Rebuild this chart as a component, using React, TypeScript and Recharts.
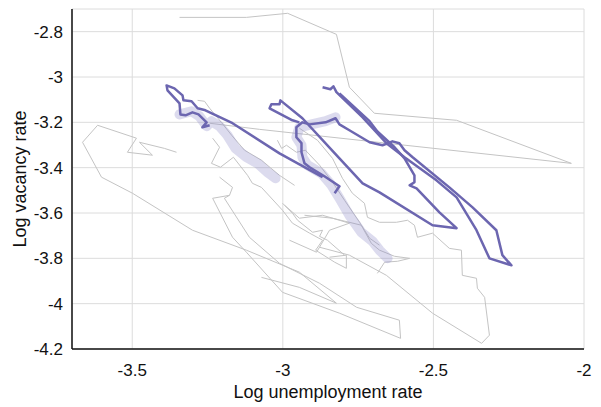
import React from "react";
import { LineChart, Line, XAxis, YAxis, CartesianGrid } from "recharts";

const xTicks = [-3.5, -3, -2.5, -2];
const yTicks = [-4.2, -4, -3.8, -3.6, -3.4, -3.2, -3, -2.8];

// grey background paths (log u, log v)
const greyAx = [-3.343, -3.121, -2.984, -2.822, -2.779, -2.696, -2.423, -2.042, -3.077, -3.243];
const greyAy = [-2.737, -2.737, -2.719, -2.812, -3.045, -3.16, -3.191, -3.381, -3.231, -3.204];

const greyBx = [-3.353, -3.393, -3.476, -3.433, -3.516, -3.486, -3.615, -3.665, -3.602, -3.499, -3.3, -3.121, -2.945, -2.822, -2.945, -3.071];
const greyBy = [-3.332, -3.315, -3.288, -3.345, -3.332, -3.27, -3.213, -3.288, -3.442, -3.513, -3.676, -3.764, -3.861, -3.998, -3.928, -3.884];

const greyCx = [-2.945, -2.885, -2.835, -2.802, -2.769, -2.729, -2.719, -2.679, -2.623, -2.586, -2.563, -2.553, -2.503, -2.447, -2.407, -2.404, -2.357, -2.354, -2.33, -2.314, -2.34, -2.503, -2.656, -2.779, -2.878];
const greyCy = [-3.226, -3.279, -3.359, -3.447, -3.513, -3.557, -3.619, -3.641, -3.641, -3.632, -3.654, -3.707, -3.689, -3.756, -3.764, -3.875, -3.888, -3.932, -3.972, -4.139, -4.175, -4.042, -3.875, -3.786, -3.751];

const greyDx = [-3.21, -3.167, -3.177, -3.233, -3.167, -3.121, -3.001, -2.812, -2.609, -2.613, -2.755, -2.878, -3.011, -3.111, -3.194, -3.177];
const greyDy = [-3.442, -3.487, -3.522, -3.535, -3.707, -3.773, -3.95, -4.042, -4.153, -4.073, -4.016, -3.91, -3.822, -3.707, -3.535, -3.522];

const greyEx = [-3.233, -3.21, -3.237, -3.207, -3.164, -3.117, -3.101, -3.071, -3.001, -2.968, -2.911, -2.868, -2.891, -2.828, -2.789, -2.789, -2.845];
const greyEy = [-3.27, -3.31, -3.381, -3.398, -3.354, -3.434, -3.469, -3.487, -3.588, -3.645, -3.689, -3.72, -3.764, -3.817, -3.844, -3.786, -3.795];

const greyFx = [-3.018, -3.004, -2.988, -2.955, -2.925, -2.878, -2.835, -2.795, -2.745, -2.706, -2.679, -2.629, -2.579, -2.619, -2.662, -2.686];
const greyFy = [-3.279, -3.315, -3.301, -3.332, -3.323, -3.389, -3.464, -3.544, -3.641, -3.734, -3.764, -3.791, -3.8, -3.813, -3.817, -3.866];

const greyGx = [-3.283, -3.26, -3.243, -3.204, -3.17, -3.127, -3.071, -3.011, -2.961];
const greyGy = [-3.103, -3.107, -3.138, -3.2, -3.257, -3.323, -3.367, -3.434, -3.478];

const greyHx = [-2.994, -2.945, -2.868, -2.779, -2.845, -2.888, -2.978];
const greyHy = [-3.566, -3.623, -3.61, -3.645, -3.676, -3.773, -3.72];

const greyIx = [-3.001, -2.968, -2.951, -2.901, -2.868, -2.878, -2.852, -2.795];
const greyIy = [-3.557, -3.601, -3.632, -3.685, -3.676, -3.703, -3.72, -3.786];

const greyJx = [-2.928, -2.835, -2.739, -2.712, -2.679];
const greyJy = [-3.61, -3.623, -3.654, -3.711, -3.742];

// shaded bands
const band1x = [-3.343, -3.303, -3.277, -3.253, -3.237, -3.21, -3.184, -3.157, -3.121, -3.084, -3.051, -3.024];
const band1y = [-3.165, -3.151, -3.173, -3.217, -3.195, -3.217, -3.257, -3.315, -3.354, -3.381, -3.42, -3.447];

const band2x = [-2.825, -2.858, -2.905, -2.945, -2.955, -2.938, -2.935, -2.918, -2.872, -2.838, -2.812, -2.779, -2.739, -2.702, -2.679, -2.652];
const band2y = [-3.178, -3.195, -3.209, -3.222, -3.266, -3.301, -3.354, -3.389, -3.425, -3.478, -3.535, -3.61, -3.685, -3.725, -3.764, -3.8];

// highlighted purple paths
const purple1x = [-3.243, -3.267, -3.253, -3.28, -3.3, -3.323, -3.34, -3.343, -3.383, -3.386, -3.36, -3.333, -3.33, -3.303, -3.283, -3.257, -3.167, -3.011, -2.868];
const purple1y = [-3.213, -3.222, -3.2, -3.165, -3.156, -3.169, -3.165, -3.116, -3.059, -3.037, -3.05, -3.081, -3.103, -3.107, -3.138, -3.147, -3.204, -3.337, -3.442];

const purple2x = [-2.945, -2.968, -3.044, -3.038, -3.011, -3.008, -2.935, -2.812, -2.735, -2.679, -2.503, -2.423, -2.48, -2.556, -2.579, -2.563, -2.563, -2.596, -2.629, -2.686, -2.712, -2.812];
const purple2y = [-3.2, -3.191, -3.138, -3.12, -3.12, -3.103, -3.182, -3.359, -3.469, -3.509, -3.654, -3.667, -3.597, -3.491, -3.478, -3.464, -3.434, -3.359, -3.31, -3.24, -3.195, -3.072];

const purple3x = [-2.828, -2.812, -2.862, -2.911, -2.928, -2.938, -2.938, -2.955, -2.955, -2.935, -2.911, -2.858, -2.825, -2.812, -2.779, -2.712, -2.669, -2.636, -2.613, -2.596, -2.569, -2.447, -2.37, -2.291, -2.271, -2.241, -2.314, -2.357, -2.423, -2.49, -2.596, -2.656, -2.735, -2.822, -2.832, -2.842, -2.868];
const purple3y = [-3.513, -3.482, -3.438, -3.398, -3.381, -3.332, -3.292, -3.266, -3.222, -3.2, -3.209, -3.2, -3.182, -3.209, -3.235, -3.288, -3.301, -3.284, -3.292, -3.323, -3.354, -3.487, -3.575, -3.676, -3.786, -3.831, -3.8, -3.676, -3.531, -3.456, -3.354, -3.292, -3.178, -3.067, -3.041, -3.054, -3.045];

const pts = (xs: number[], ys: number[]) => xs.map((x, i) => ({ x, y: ys[i] }));

const greys = [
  pts(greyAx, greyAy),
  pts(greyBx, greyBy),
  pts(greyCx, greyCy),
  pts(greyDx, greyDy),
  pts(greyEx, greyEy),
  pts(greyFx, greyFy),
  pts(greyGx, greyGy),
  pts(greyHx, greyHy),
  pts(greyIx, greyIy),
  pts(greyJx, greyJy),
];
const bands = [pts(band1x, band1y), pts(band2x, band2y)];
const purples = [pts(purple1x, purple1y), pts(purple2x, purple2y), pts(purple3x, purple3y)];

const font = "'Liberation Sans', Arial, Helvetica, sans-serif";

export default function App() {
  return (
    <div style={{ position: "absolute", left: 0, top: 0, fontFamily: font }}>
      <LineChart width={601} height={407} margin={{ top: 9, right: 17, bottom: 0, left: 0 }}>
        <CartesianGrid stroke="#dcdcdc" />
        <XAxis
          type="number"
          dataKey="x"
          domain={[-3.7, -2]}
          ticks={xTicks}
          allowDataOverflow
          height={58}
          tickLine={false}
          tickMargin={9}
          axisLine={{ stroke: "#111", strokeWidth: 1.5 }}
          tick={{ fill: "#111", fontSize: 17 }}
          label={{ value: "Log unemployment rate", position: "insideBottom", offset: 9, fill: "#111", fontSize: 18 }}
        />
        <YAxis
          type="number"
          dataKey="y"
          domain={[-4.2, -2.7]}
          ticks={yTicks}
          allowDataOverflow
          width={72}
          tickLine={false}
          tickMargin={3}
          axisLine={{ stroke: "#111", strokeWidth: 1.5 }}
          tick={{ fill: "#111", fontSize: 17 }}
          label={{ value: "Log vacancy rate", angle: -90, position: "insideLeft", offset: 20, fill: "#111", fontSize: 18, style: { textAnchor: "middle" } }}
        />
        {greys.map((d, i) => (
          <Line key={"g" + i} data={d} dataKey="y" type="linear" stroke="#c4c4c4" strokeWidth={1} dot={false} activeDot={false} isAnimationActive={false} />
        ))}
        {bands.map((d, i) => (
          <Line key={"b" + i} data={d} dataKey="y" type="linear" stroke="#8c88c8" strokeOpacity={0.3} strokeWidth={10} strokeLinecap="round" strokeLinejoin="round" dot={false} activeDot={false} isAnimationActive={false} />
        ))}
        {purples.map((d, i) => (
          <Line key={"p" + i} data={d} dataKey="y" type="linear" stroke="#6c66b0" strokeWidth={2.5} strokeLinejoin="round" dot={false} activeDot={false} isAnimationActive={false} />
        ))}
      </LineChart>
    </div>
  );
}
